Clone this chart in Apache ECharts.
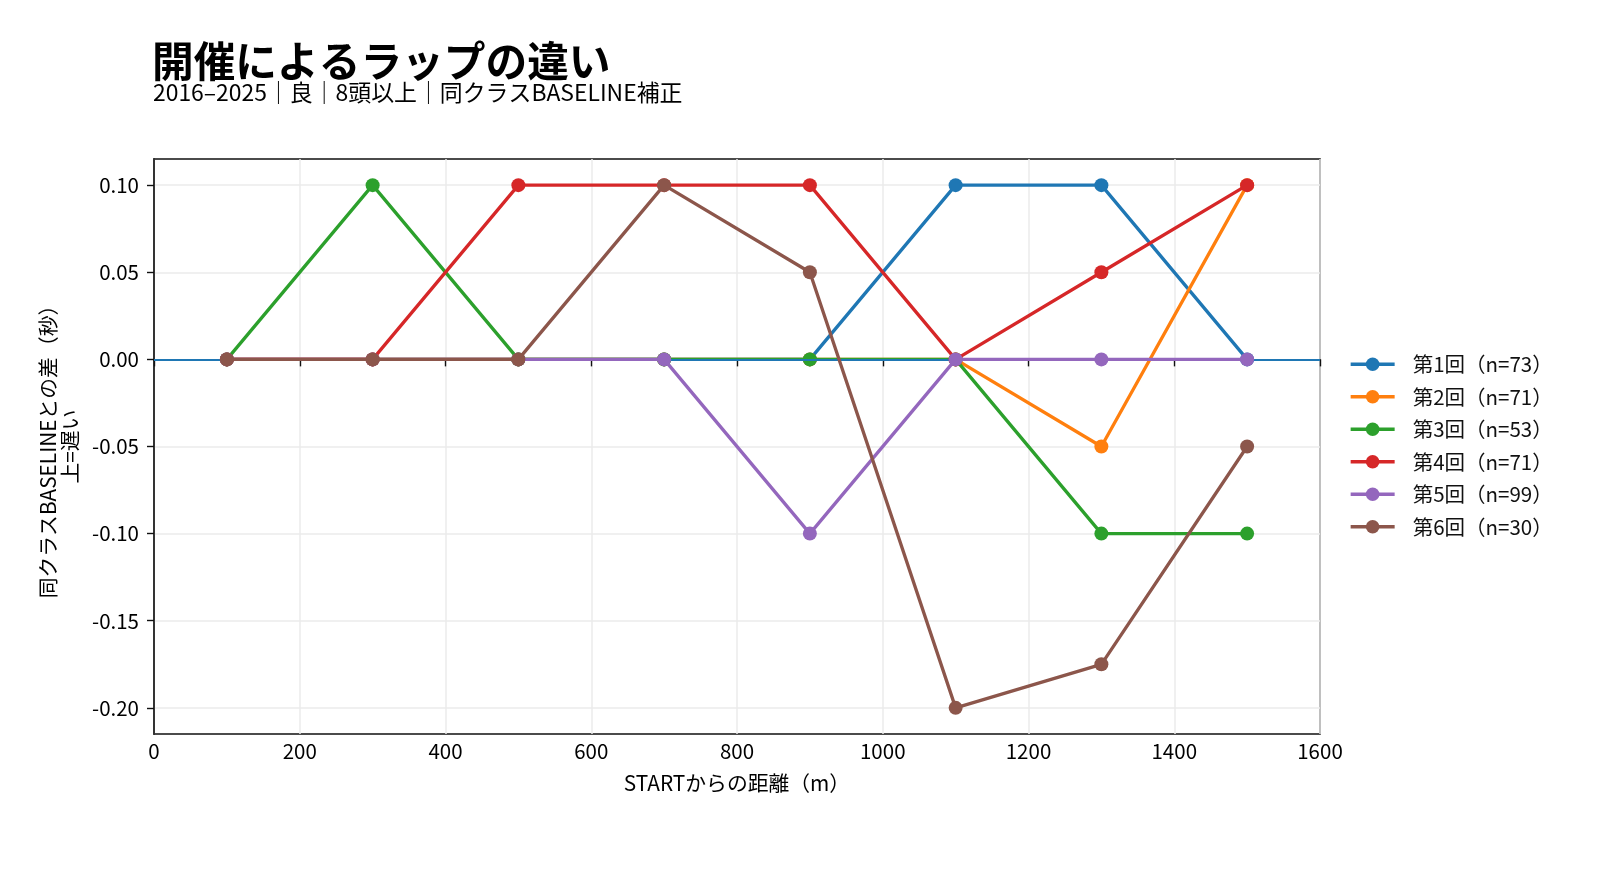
<!DOCTYPE html>
<html>
<head>
<meta charset="utf-8">
<script src="https://cdn.jsdelivr.net/npm/echarts@6/dist/echarts.min.js"></script>
<style>
  html, body { margin: 0; padding: 0; background: #fff; }
  #chart { width: 1620px; height: 885px; }
</style>
</head>
<body>
<div id="chart"></div>
<script>
// 距離（m）
const distances = [100, 300, 500, 700, 900, 1100, 1300, 1500];
const yTicks = [-0.2, -0.15, -0.1, -0.05, 0, 0.05, 0.1];

const names = ['第1回（n=73）', '第2回（n=71）', '第3回（n=53）', '第4回（n=71）', '第5回（n=99）', '第6回（n=30）'];
const kai1 = [0, 0, 0, 0, 0, 0.1, 0.1, 0];
const kai2 = [0, 0, 0, 0, 0, 0, -0.05, 0.1];
const kai3 = [0, 0.1, 0, 0, 0, 0, -0.1, -0.1];
const kai4 = [0, 0, 0.1, 0.1, 0.1, 0, 0.05, 0.1];
const kai5 = [0, 0, 0, 0, -0.1, 0, 0, 0];
const kai6 = [0, 0, 0, 0.1, 0.05, -0.2, -0.175, -0.05];
const allValues = [kai1, kai2, kai3, kai4, kai5, kai6];

const colors = ['#1f77b4', '#ff7f0e', '#2ca02c', '#d62728', '#9467bd', '#8c564b'];
const FONT = '"Noto Sans CJK JP", "Noto Sans", sans-serif';

let myChart = echarts.init(document.getElementById('chart'));

let series = allValues.map(function (vals, i) {
    return {
        name: names[i],
        type: 'line',
        data: distances.map((d, j) => [d, vals[j]]),
        symbol: 'circle',
        symbolSize: 14,
        lineStyle: {width: 3.3, color: colors[i]},
        itemStyle: {color: colors[i]},
        z: 2 + i
    };
});
// 0 の基準線
series[0].markLine = {
    silent: true,
    symbol: ['none', 'none'],
    label: {show: false},
    lineStyle: {color: '#1f77b4', width: 2, type: 'solid'},
    data: [{yAxis: 0}]
};

let option = {
    animation: false,
    color: colors,
    title: [
        {
            text: '開催によるラップの違い',
            left: 152, top: 40, padding: 0,
            textStyle: {fontFamily: FONT, fontWeight: 'bold', fontSize: 41.7, color: '#000'}
        },
        {
            text: '2016–2025｜良｜8頭以上｜同クラスBASELINE補正',
            left: 153, top: 81, padding: 0,
            textStyle: {fontFamily: FONT, fontWeight: 'normal', fontSize: 22.9, color: '#000'}
        }
    ],
    legend: {
        orient: 'vertical',
        left: 1349, top: 354,
        padding: 0,
        itemWidth: 44, itemHeight: 17,
        itemGap: 12,
        lineStyle: {width: 3.3},
        textStyle: {fontFamily: FONT, fontSize: 20.5, color: '#111', padding: [0, 0, 0, 13]},
        data: names
    },
    grid: {
        left: 154, top: 159, right: 300, bottom: 151,
        show: true, borderColor: '#111', borderWidth: 1.6, backgroundColor: 'transparent'
    },
    xAxis: {
        type: 'value',
        min: 0, max: 1600, interval: 200,
        name: 'STARTからの距離（m）',
        nameLocation: 'middle', nameGap: 39,
        nameTextStyle: {fontFamily: FONT, fontSize: 20.8, color: '#000'},
        axisLine: {show: true, lineStyle: {color: '#111', width: 1.6}},
        axisTick: {show: true, length: 7, lineStyle: {color: '#111', width: 1.4}},
        axisLabel: {fontFamily: FONT, fontSize: 20.5, color: '#000', margin: 7, formatter: v => String(v)},
        splitLine: {show: true, lineStyle: {color: '#ebebeb', width: 1.5}}
    },
    yAxis: {
        type: 'value',
        min: -0.215, max: 0.115,
        name: '同クラスBASELINEとの差（秒）\n上=遅い',
        nameLocation: 'middle', nameGap: 69,
        nameTextStyle: {fontFamily: FONT, fontSize: 20.8, color: '#000', lineHeight: 22},
        axisLine: {show: true, lineStyle: {color: '#111', width: 1.6}},
        axisTick: {show: true, length: 7, customValues: yTicks, lineStyle: {color: '#111', width: 1.4}},
        axisLabel: {
            fontFamily: FONT, fontSize: 20.5, color: '#000', margin: 15,
            customValues: yTicks,
            formatter: v => v.toFixed(2)
        },
        splitLine: {show: true, lineStyle: {color: '#ebebeb', width: 1.5}}
    },
    series: series
};

myChart.setOption(option);
</script>
</body>
</html>
